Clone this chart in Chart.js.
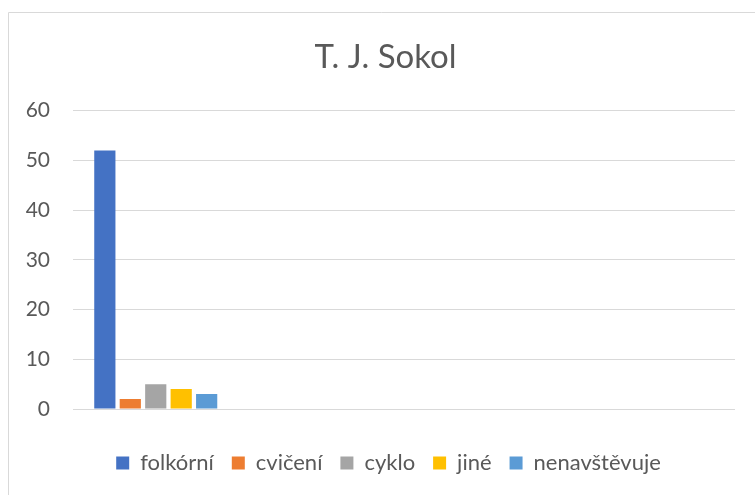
<!DOCTYPE html>
<html>
<head>
<meta charset="utf-8">
<script src="https://cdn.jsdelivr.net/npm/chart.js@4"></script>
<style>
  html, body { margin: 0; padding: 0; background: #fff; }
  #wrap { position: absolute; left: 0; top: 0; width: 755px; height: 495px; }
</style>
</head>
<body>
<div id="wrap"><canvas id="chart" width="755" height="495"></canvas></div>
<script>
// data
const categories = ["", "", "", ""];
const seriesNames = ["folkórní", "cvičení", "cyklo", "jiné", "nenavštěvuje"];
const folkorni = [52, null, null, null];
const cviceni = [2, null, null, null];
const cyklo = [5, null, null, null];
const jine = [4, null, null, null];
const nenavstevuje = [3, null, null, null];
const yTicks = [0, 10, 20, 30, 40, 50, 60];

const colors = ["#4472C4", "#ED7D31", "#A5A5A5", "#FFC000", "#5B9BD5"];
const textColor = "#595959";
const fontFamily = "Lato, 'Open Sans', sans-serif";

// light frame of the Excel chart area (right and bottom edges are cut off)
const framePlugin = {
  id: "frame",
  beforeDraw(chart) {
    const ctx = chart.ctx;
    ctx.save();
    ctx.strokeStyle = "#d9d9d9";
    ctx.lineWidth = 1;
    ctx.beginPath();
    ctx.moveTo(8.5, 495);
    ctx.lineTo(8.5, 12.5);
    ctx.lineTo(755, 12.5);
    ctx.stroke();
    ctx.restore();
  },
};

// excel centres title and legend on the whole frame, which runs past the right edge
const shiftPlugin = {
  id: "shift",
  afterLayout(chart) {
    if (chart.titleBlock) {
      chart.titleBlock.left += 18;
      chart.titleBlock.right += 18;
    }
    if (chart.legend) {
      chart.legend.left += 21;
      chart.legend.right += 21;
    }
  },
};

const allSeries = [folkorni, cviceni, cyklo, jine, nenavstevuje];

const canvas = document.querySelector("#chart");
const chart = new Chart(canvas.getContext("2d"), {
  type: "bar",
  data: {
    labels: categories,
    datasets: allSeries.map((d, i) => ({
      label: seriesNames[i],
      data: d,
      backgroundColor: colors[i],
      borderWidth: 0,
      categoryPercentage: 0.769,
      barPercentage: 0.833,
    })),
  },
  options: {
    responsive: false,
    animation: false,
    layout: {
      padding: { left: 0, right: 20, top: 0, bottom: 11 },
    },
    scales: {
      x: {
        border: { display: false },
        grid: { display: false },
        ticks: { display: false },
        afterFit(scale) {
          scale.height = 25;
        },
      },
      y: {
        min: 0,
        max: 60,
        afterFit(scale) {
          scale.width = 73;
        },
        afterBuildTicks(scale) {
          scale.ticks = yTicks.map((v) => ({ value: v }));
        },
        border: { display: false },
        grid: {
          color: "#d9d9d9",
          lineWidth: 1,
          drawTicks: false,
        },
        ticks: {
          color: textColor,
          padding: 23,
          font: { family: fontFamily, size: 21 },
        },
      },
    },
    plugins: {
      title: {
        display: true,
        text: "T. J. Sokol",
        color: textColor,
        font: { family: fontFamily, size: 33, weight: "normal" },
        padding: { top: 38, bottom: 33 },
      },
      legend: {
        position: "bottom",
        labels: {
          color: textColor,
          boxWidth: 13,
          boxHeight: 13,
          padding: 18,
          font: { family: fontFamily, size: 22 },
        },
      },
      tooltip: { enabled: false },
    },
  },
  plugins: [framePlugin, shiftPlugin],
});
</script>
</body>
</html>
